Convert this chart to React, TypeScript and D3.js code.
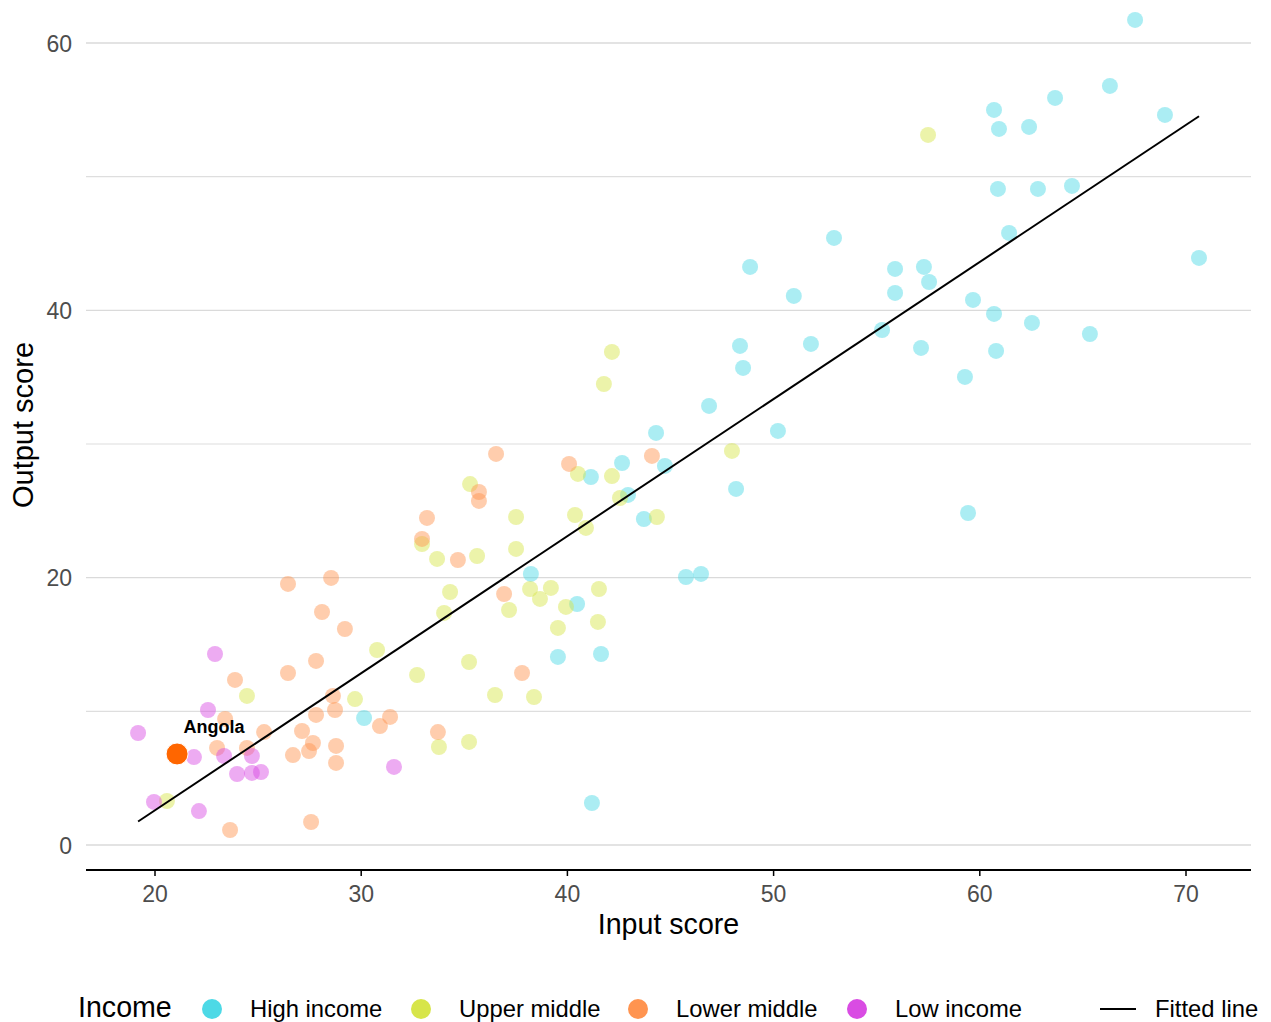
import React from "react";
import * as d3 from "d3";

const incomeGroups = ["High income", "Upper middle", "Lower middle", "Low income"];
const groupColors = ["#4dd9e6", "#d7e54a", "#ff9450", "#d94ce3"];

const highIncome: [number, number][] = [
  [67.53, 61.73], [66.31, 56.79], [63.65, 55.89], [60.69, 54.99], [60.93, 53.57], [62.39, 53.72],
  [68.98, 54.62], [60.88, 49.08], [62.82, 49.08], [64.47, 49.31], [61.42, 45.79], [52.93, 45.42],
  [48.86, 43.25], [55.89, 43.1], [57.29, 43.25], [57.54, 42.12], [55.89, 41.3], [50.98, 41.08],
  [59.67, 40.78], [70.63, 43.92], [60.69, 39.73], [62.53, 39.06], [55.26, 38.53], [65.34, 38.23],
  [48.37, 37.34], [51.81, 37.49], [57.15, 37.19], [60.79, 36.96], [48.52, 35.69], [59.28, 35.02],
  [46.87, 32.85], [44.3, 30.83], [50.21, 30.98], [42.65, 28.58], [44.73, 28.36], [41.14, 27.53],
  [42.94, 26.19], [43.71, 24.39], [48.18, 26.64], [59.43, 24.84], [38.23, 20.28], [45.75, 20.05],
  [46.48, 20.28], [40.47, 18.03], [39.54, 14.07], [41.63, 14.29], [30.14, 9.5], [41.19, 3.14],
];

const upperMiddle: [number, number][] = [
  [57.49, 53.12], [42.16, 36.89], [41.77, 34.49], [47.98, 29.48], [35.28, 27.0], [40.51, 27.76],
  [42.16, 27.6], [42.55, 25.96], [40.37, 24.69], [44.34, 24.54], [40.9, 23.72], [37.51, 24.54],
  [32.95, 22.52], [33.68, 21.4], [35.62, 21.62], [37.51, 22.15], [34.31, 18.93], [34.02, 17.36],
  [38.19, 19.15], [39.2, 19.23], [38.67, 18.41], [39.93, 17.81], [41.53, 19.15], [41.48, 16.69],
  [39.54, 16.24], [37.17, 17.58], [30.77, 14.59], [35.23, 13.69], [32.71, 12.72], [36.49, 11.22],
  [38.38, 11.07], [29.7, 10.92], [24.46, 11.15], [20.58, 3.29], [33.77, 7.33], [35.23, 7.71],
];

const lowerMiddle: [number, number][] = [
  [36.54, 29.26], [40.08, 28.51], [44.1, 29.11], [35.71, 26.41], [35.71, 25.74], [33.19, 24.47],
  [32.95, 22.9], [34.69, 21.32], [36.93, 18.78], [37.8, 12.87], [26.45, 19.53], [28.54, 19.98],
  [28.1, 17.43], [29.21, 16.16], [27.81, 13.77], [26.45, 12.87], [23.88, 12.35], [28.63, 11.15],
  [28.73, 10.1], [27.81, 9.73], [27.13, 8.53], [25.29, 8.45], [30.91, 8.9], [31.4, 9.58],
  [33.72, 8.45], [23.01, 7.26], [24.46, 7.26], [27.66, 7.63], [27.47, 7.03], [28.78, 7.41],
  [26.69, 6.73], [28.78, 6.14], [23.4, 9.43], [27.57, 1.72], [23.64, 1.12],
];

const lowIncome: [number, number][] = [
  [22.91, 14.29], [22.57, 10.1], [19.18, 8.38], [21.89, 6.58], [23.35, 6.66], [24.7, 6.66],
  [23.98, 5.31], [24.7, 5.39], [25.14, 5.46], [19.95, 3.22], [22.13, 2.54], [31.59, 5.84],
];

const highlightName = "Angola";
const highlightPoint: [number, number] = [21.07, 6.81];

const fitSlope = 1.0255;
const fitIntercept = -17.91;

const xTicks = [20, 30, 40, 50, 60, 70];
const yTicks = [0, 20, 40, 60];
const yMinorTicks = [10, 30, 50];

const seriesData = [highIncome, upperMiddle, lowerMiddle, lowIncome];

export default function App() {
  const W = 1271;
  const H = 1022;
  const panelLeft = 86;
  const panelRight = 1251;
  const axisY = 870;

  const x = d3.scaleLinear().domain([20, 70]).range([155, 1186]);
  const y = d3.scaleLinear().domain([0, 60]).range([845, 43]);

  const allX = seriesData.flat().map((d) => d[0]).concat([highlightPoint[0]]);
  const [xMin, xMax] = d3.extent(allX) as [number, number];
  const fitLine = d3
    .line<number>()
    .x((v) => x(v))
    .y((v) => y(fitIntercept + fitSlope * v));

  const font = "'Liberation Sans', Arial, Helvetica, sans-serif";
  const legendKeyX = [212, 421, 638, 857];
  const legendY = 1009;

  return (
    <svg
      width={W}
      height={H}
      style={{ position: "absolute", left: 0, top: 0, background: "#fff" }}
      fontFamily={font}
    >
      <rect x={0} y={0} width={W} height={H} fill="#fff" />
      {yMinorTicks.map((t) => (
        <line key={"m" + t} x1={panelLeft} x2={panelRight} y1={y(t)} y2={y(t)} stroke="#dedede" strokeWidth={1.1} />
      ))}
      {yTicks.map((t) => (
        <line key={"g" + t} x1={panelLeft} x2={panelRight} y1={y(t)} y2={y(t)} stroke="#dadada" strokeWidth={1.3} />
      ))}
      {yTicks.map((t) => (
        <text key={"yl" + t} x={72} y={y(t) + 8.5} textAnchor="end" fontSize={23} fill="#4d4d4d">
          {t}
        </text>
      ))}
      {seriesData.map((pts, gi) => (
        <g key={"s" + gi}>
          {pts.map((d, i) => (
            <circle key={i} cx={x(d[0])} cy={y(d[1])} r={8} fill={groupColors[gi]} fillOpacity={0.47} />
          ))}
        </g>
      ))}
      <path d={fitLine([xMin, xMax]) || ""} fill="none" stroke="#000" strokeWidth={2} />
      <circle cx={x(highlightPoint[0])} cy={y(highlightPoint[1])} r={11} fill="#ff6600" stroke="#ffffff" strokeWidth={1} />
      <text
        x={x(highlightPoint[0]) + 37}
        y={y(highlightPoint[1]) - 21}
        textAnchor="middle"
        fontSize={18}
        fontWeight="bold"
        fill="#000"
      >
        {highlightName}
      </text>
      <line x1={panelLeft} x2={panelRight} y1={axisY} y2={axisY} stroke="#000" strokeWidth={2} />
      {xTicks.map((t) => (
        <g key={"xt" + t}>
          <line x1={x(t)} x2={x(t)} y1={axisY} y2={axisY + 6} stroke="#000" strokeWidth={1.5} />
          <text x={x(t)} y={902} textAnchor="middle" fontSize={23} fill="#4d4d4d">
            {t}
          </text>
        </g>
      ))}
      <text x={(panelLeft + panelRight) / 2} y={934} textAnchor="middle" fontSize={28.6} fill="#000">
        Input score
      </text>
      <text transform={`translate(33,425) rotate(-90)`} textAnchor="middle" fontSize={29} fill="#000">
        Output score
      </text>
      <text x={78} y={1017} fontSize={28.6} fill="#000">
        Income
      </text>
      {incomeGroups.map((g, i) => (
        <g key={"lg" + i}>
          <circle cx={legendKeyX[i]} cy={legendY} r={10} fill={groupColors[i]} />
          <text x={legendKeyX[i] + 38} y={1017} fontSize={23.8} fill="#000">
            {g}
          </text>
        </g>
      ))}
      <line x1={1100} x2={1136} y1={legendY} y2={legendY} stroke="#000" strokeWidth={2} />
      <text x={1155} y={1017} fontSize={23.8} fill="#000">
        Fitted line
      </text>
    </svg>
  );
}
